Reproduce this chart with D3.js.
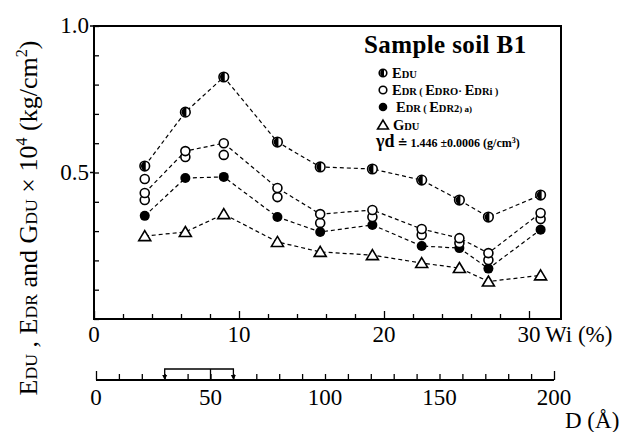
<!DOCTYPE html>
<html><head><meta charset="utf-8">
<script src="https://cdn.jsdelivr.net/npm/d3@7"></script>
<style>
html,body{margin:0;padding:0;background:#fff;}
svg{display:block;}
svg text{font-family:"Liberation Serif","Times New Roman","DejaVu Serif",serif;}
</style></head>
<body>
<svg id="c" width="629" height="432" font-family="Liberation Serif, serif"></svg>
<script>
// ---- data ----
const wi   = [3.5, 6.3, 8.95, 12.65, 15.6, 19.2, 22.6, 25.2, 27.2, 30.8];
const eDU  = [0.522, 0.706, 0.826, 0.604, 0.519, 0.512, 0.474, 0.406, 0.348, 0.423];
const eDR0 = [0.430, 0.573, 0.600, 0.447, 0.358, 0.372, 0.307, 0.276, 0.225, 0.362];
const eDRi = [0.406, 0.553, 0.560, 0.416, 0.328, 0.348, 0.287, 0.259, 0.201, 0.341];
const eDRxWi  = [3.5];
const eDRxVal = [0.478];
const eDR2 = [0.352, 0.481, 0.485, 0.348, 0.297, 0.321, 0.249, 0.242, 0.172, 0.305];
const gDU  = [0.283, 0.297, 0.358, 0.263, 0.229, 0.218, 0.191, 0.174, 0.128, 0.149];
const wiTicks = [0, 10, 20, 30];
const yTickLabels = [0.5, 1.0];
const dTicks = [0, 50, 100, 150, 200];
const dBracket = [30, 50, 60];

const FONT = "Liberation Serif, Times New Roman, serif";
const svg = d3.select("#c");
const x = d3.scaleLinear().domain([0, 30]).range([94, 529]);
const y = d3.scaleLinear().domain([0, 1]).range([319, 26]);
const xD = d3.scaleLinear().domain([0, 200]).range([96, 554]);
const right = 561;

function txt(xx, yy, s, size, anchor) {
  return svg.append("text").attr("x", xx).attr("y", yy).attr("font-family", FONT)
    .attr("font-size", size).attr("text-anchor", anchor || "start").text(s);
}

// frame
svg.append("path").attr("fill", "none").attr("stroke", "#000").attr("stroke-width", 2)
  .attr("d", `M${x(0)},${y(1)}H${right}V${y(0)}H${x(0)}Z`);

// left axis ticks (inward)
const ya = d3.axisRight(y).tickValues(d3.range(0, 1.001, 0.1)).tickSize(5).tickFormat("");
const gy = svg.append("g").attr("transform", `translate(${x(0)},0)`).call(ya);
gy.select(".domain").remove();
gy.selectAll("line").attr("stroke-width", 1.3);
yTickLabels.forEach(v => {
  svg.append("line").attr("x1", x(0) - 4).attr("x2", x(0)).attr("y1", y(v)).attr("y2", y(v)).attr("stroke", "#000").attr("stroke-width", 1.5);
  txt(x(0) - 5, y(v) + 7, d3.format(".1f")(v), 23, "end");
});

// bottom Wi axis ticks (inward)
const xa = d3.axisBottom(x).tickValues(d3.range(0, 31, 2)).tickSize(-5).tickFormat("");
const gx = svg.append("g").attr("transform", `translate(0,${y(0)})`).call(xa);
gx.select(".domain").remove();
gx.selectAll(".tick line").attr("stroke-width", 1.3).attr("y2", d => d % 10 === 0 ? -8 : -5);
wiTicks.forEach(v => txt(x(v), 342, String(v), 23, "middle"));
txt(x(30) + 16, 342, "Wi (%)", 23);

// D axis
const yD = 380;
const da = d3.axisBottom(xD).tickValues(d3.range(0, 201, 10)).tickSize(-5).tickFormat("");
const gd = svg.append("g").attr("transform", `translate(0,${yD})`).call(da);
gd.select(".domain").remove();
gd.selectAll(".tick line").attr("stroke-width", 1.3).attr("y2", d => (d === 0 || d === 200) ? -9 : -6);
svg.append("line").attr("x1", xD(0)).attr("x2", xD(200)).attr("y1", yD).attr("y2", yD).attr("stroke", "#000").attr("stroke-width", 1.8);
dTicks.forEach(v => txt(xD(v), 405, String(v), 23, "middle"));
txt(565, 428, "D (Å)", 23);
// bracket 30–60 with 50 mark
const bTop = 369;
svg.append("path").attr("fill", "none").attr("stroke", "#000").attr("stroke-width", 1.3)
  .attr("d", `M${xD(dBracket[0])},${yD - 2}V${bTop}H${xD(dBracket[2])}V${yD - 2}M${xD(dBracket[1])},${bTop}V${yD}`);
[dBracket[0], dBracket[2]].forEach(v => {
  svg.append("path").attr("fill", "#000").attr("d", `M${xD(v) - 2.5},${yD - 5}L${xD(v) + 2.5},${yD - 5}L${xD(v)},${yD}Z`);
});

// series lines
const line = d3.line().x(d => x(d[0])).y(d => y(d[1]));
[eDU, eDR0, eDR2, gDU].forEach(s => {
  svg.append("path").datum(wi.map((w, i) => [w, s[i]])).attr("d", line)
    .attr("fill", "none").attr("stroke", "#000").attr("stroke-width", 1.2).attr("stroke-dasharray", "4,3");
});

// markers
function halfCircle(g, cx, cy, r) {
  g.append("circle").attr("cx", cx).attr("cy", cy).attr("r", r).attr("fill", "#fff").attr("stroke", "#000").attr("stroke-width", 1.6);
  g.append("path").attr("fill", "#000")
    .attr("d", `M${cx + 1},${cy - r}A${r},${r} 0 0 0 ${cx + 1},${cy + r}Z`);
}
function openCircle(g, cx, cy, r) {
  g.append("circle").attr("cx", cx).attr("cy", cy).attr("r", r).attr("fill", "#fff").attr("stroke", "#000").attr("stroke-width", 1.6);
}
function filledCircle(g, cx, cy, r) {
  g.append("circle").attr("cx", cx).attr("cy", cy).attr("r", r).attr("fill", "#000");
}
function triangle(g, cx, cy, s) {
  g.append("path").attr("fill", "#fff").attr("stroke", "#000").attr("stroke-width", 1.6)
    .attr("d", `M${cx},${cy - s * 0.55}L${cx + s * 0.6},${cy + s * 0.45}L${cx - s * 0.6},${cy + s * 0.45}Z`);
}
const mk = svg.append("g");
wi.forEach((w, i) => triangle(mk, x(w), y(gDU[i]), 10));
wi.forEach((w, i) => filledCircle(mk, x(w), y(eDR2[i]), 5));
wi.forEach((w, i) => openCircle(mk, x(w), y(eDRi[i]), 4.5));
wi.forEach((w, i) => openCircle(mk, x(w), y(eDR0[i]), 4.5));
eDRxWi.forEach((w, i) => openCircle(mk, x(w), y(eDRxVal[i]), 4.5));
wi.forEach((w, i) => halfCircle(mk, x(w), y(eDU[i]), 4.8));

// rich text helper
function rich(parent, xx, yy, parts, attrs) {
  const t = parent.append("text").attr("x", xx).attr("y", yy).attr("font-family", FONT);
  Object.entries(attrs || {}).forEach(([k, v]) => t.attr(k, v));
  parts.forEach(p => {
    const ts = t.append("tspan").attr("font-size", p[1]).text(p[0]);
    if (p[2]) ts.attr("dy", p[2]);
  });
  return t;
}

// legend
txt(364, 53, "Sample soil B1", 25).attr("font-weight", "bold").attr("letter-spacing", 0.4);
const lg = svg.append("g");
halfCircle(lg, 383, 73, 3.8);
rich(lg, 392, 78, [["E", 14.5], ["DU", 10.5]], {"font-weight": "bold"});
openCircle(lg, 383, 90, 3.8);
rich(lg, 392, 95, [["E", 14.5], ["DR", 10.5], [" ( ", 10], ["E", 14.5], ["DRO", 10.5], ["· ", 11], ["E", 14.5], ["DRi", 10.5], [" )", 10]], {"font-weight": "bold"});
filledCircle(lg, 383, 107, 4.3);
rich(lg, 396, 112, [["E", 14.5], ["DR", 10.5], [" ( ", 10], ["E", 14.5], ["DR2", 10.5], [") a)", 9]], {"font-weight": "bold"});
triangle(lg, 383, 125, 9);
rich(lg, 393, 130, [["G", 14.5], ["DU", 10.5]], {"font-weight": "bold"});
rich(lg, 376, 147, [["γ", 18, null], ["d", 18], [" ≐ 1.446 ±0.0006 (g/cm", 12], ["3", 8, -4], [")", 12, 4]], {"font-weight": "bold"});

// y-axis title (font scaled to span the height)
function yTitle(fs) {
  const sub = fs * 0.68, sup = fs * 0.62;
  return rich(svg, 0, 0, [
    ["E", fs], ["DU", sub], [" , ", fs], ["E", fs], ["DR", sub], ["  and ", fs], ["G", fs], ["DU", sub],
    ["  × 10", fs], ["4", sup, -fs * 0.4], [" (kg/cm", fs, fs * 0.4], ["2", sup, -fs * 0.4], [")", fs, fs * 0.4]
  ], {"text-anchor": "middle", "transform": "translate(37,218) rotate(-90)"});
}
let yl = yTitle(23);
const L = yl.node().getComputedTextLength();
if (L > 0 && Math.abs(L - 418) > 4) {
  const fs = 23 * 418 / L;
  yl.remove();
  yl = yTitle(Math.min(fs, 26));
}
</script>
</body></html>
